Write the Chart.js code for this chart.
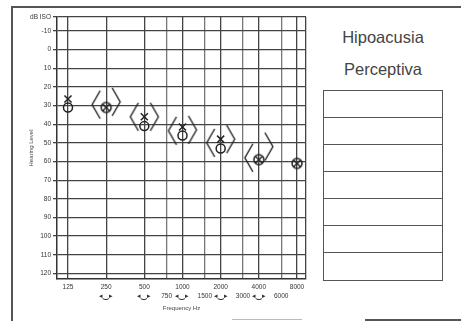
<!DOCTYPE html>
<html lang="es">
<head>
<meta charset="UTF-8">
<title>Audiograma - Hipoacusia Perceptiva</title>
<script src="https://cdn.jsdelivr.net/npm/chart.js"></script>
<style>
  html, body {
    margin: 0;
    padding: 0;
    width: 461px;
    height: 321px;
    overflow: hidden;
    background: #fff;
    font-family: "Liberation Sans", Arial, sans-serif;
  }
  #wrap { position: absolute; left: 0; top: 0; width: 320px; height: 321px; }
  .line { position: absolute; background: #555; }
  .heading {
    position: absolute;
    left: 323px;
    width: 120px;
    text-align: center;
    font-size: 16.5px;
    color: #444;
  }
  #notes {
    position: absolute;
    left: 323px;
    top: 90px;
    width: 118px;
    border: 1.5px solid #555;
  }
  #notes div { height: 27px; border-bottom: 1.5px solid #555; box-sizing: border-box; }
  #notes div:last-child { border-bottom: none; }
</style>
</head>
<body>
  <div class="line" style="left:12px; top:6px; width:449px; height:2px;"></div>
  <div class="line" style="left:11px; top:6px; width:2px; height:315px;"></div>
  <div class="line" style="left:365px; top:319px; width:96px; height:2px;"></div>
  <div class="line" style="left:232px; top:319px; width:70px; height:1px; background:#bbb;"></div>

  <div id="wrap"><canvas id="audio"></canvas></div>

  <div class="heading" style="top:28px;">Hipoacusia</div>
  <div class="heading" style="top:60px;">Perceptiva</div>
  <div id="notes"><div></div><div></div><div></div><div></div><div></div><div></div><div></div></div>

<script>
  // frequencies (Hz) and thresholds (dB)
  const freqs = [125, 250, 500, 1000, 2000, 4000, 8000];
  const xTicks = [125, 250, 500, 750, 1000, 1500, 2000, 3000, 4000, 6000, 8000];
  const topRow = [125, 250, 500, 1000, 2000, 4000, 8000];
  const arrowRow = [250, 500, 1000, 2000, 4000];
  const halfRow = [750, 1500, 3000, 6000];
  const dbTicks = [-10, 0, 10, 20, 30, 40, 50, 60, 70, 80, 90, 100, 110, 120];

  const rightAir  = [31,   null, 41, 46,   53, null, null]; // O
  const leftAir   = [26.5, null, 36, 41.5, 48, null, null]; // X
  const bothAir   = [null, 31,   null, null, null, 59, 61]; // O + X
  const rightBone = [null, 29.5, 36, 43.5, 50, 58, null];   // <
  const leftBone  = [null, 28,   36, 43,   48, 52, null];   // >

  const xMin = 102.4, xMax = 9420;
  const yMin = -17.5, yMax = 123;
  const ink = '#222';

  function toPoints(vals) {
    return freqs.map((f, i) => ({ x: f, y: vals[i] })).filter(p => p.y !== null);
  }

  function bracket(dir) {
    const c = document.createElement('canvas');
    c.width = 36; c.height = 32;
    const g = c.getContext('2d');
    g.strokeStyle = ink;
    g.lineWidth = 1.4;
    g.beginPath();
    if (dir === '<') { g.moveTo(12, 2); g.lineTo(4, 16); g.lineTo(12, 30); }
    else { g.moveTo(24, 2); g.lineTo(32, 16); g.lineTo(24, 30); }
    g.stroke();
    return c;
  }

  function circleCross() {
    const c = document.createElement('canvas');
    c.width = 14; c.height = 14;
    const g = c.getContext('2d');
    g.strokeStyle = ink;
    g.lineWidth = 1.5;
    g.beginPath();
    g.arc(7, 7, 5, 0, Math.PI * 2);
    g.moveTo(3.5, 3.5); g.lineTo(10.5, 10.5);
    g.moveTo(10.5, 3.5); g.lineTo(3.5, 10.5);
    g.stroke();
    return c;
  }

  const ctx = document.getElementById('audio').getContext('2d');

  new Chart(ctx, {
    type: 'scatter',
    data: {
      datasets: [
        { label: 'VO der.', data: toPoints(rightBone), pointStyle: bracket('<') },
        { label: 'VO izq.', data: toPoints(leftBone), pointStyle: bracket('>') },
        { label: 'VA der.', data: toPoints(rightAir), pointStyle: 'circle', pointRadius: 4.5,
          borderColor: ink, backgroundColor: 'rgba(0,0,0,0)', borderWidth: 1.5 },
        { label: 'VA izq.', data: toPoints(leftAir), pointStyle: 'crossRot', pointRadius: 5,
          borderColor: ink, borderWidth: 1.5 },
        { label: 'VA ambos', data: toPoints(bothAir), pointStyle: circleCross() }
      ]
    },
    options: {
      responsive: true,
      maintainAspectRatio: false,
      animation: false,
      layout: { padding: { top: 17, right: 14, left: 0, bottom: 0 } },
      plugins: { legend: { display: false }, tooltip: { enabled: false } },
      scales: {
        x: {
          type: 'logarithmic',
          min: xMin,
          max: xMax,
          afterBuildTicks: (scale) => {
            scale.ticks = xTicks.concat([xMax]).map(v => ({ value: v }));
          },
          afterFit: (scale) => { scale.height = 42; },
          ticks: {
            autoSkip: false,
            maxRotation: 0,
            padding: 3,
            color: '#333',
            font: { size: 6.5, family: '"Liberation Sans", Arial', lineHeight: 1.5 },
            callback: (v) => {
              const a = topRow.includes(v) ? String(v) : '';
              const b = arrowRow.includes(v) ? '\u25C2\u203F\u25B8' : (halfRow.includes(v) ? String(v) : '');
              return [a, b];
            }
          },
          grid: {
            drawTicks: false,
            color: (c) => halfRow.includes(c.tick && c.tick.value) ? '#777' : '#444',
            lineWidth: 1.3
          },
          border: { display: true, color: '#333', width: 1.5 },
          title: {
            display: true,
            text: 'Frequency Hz',
            color: '#444',
            font: { size: 6, family: '"Liberation Sans", Arial' },
            padding: { bottom: 9 }
          }
        },
        y: {
          type: 'linear',
          reverse: true,
          min: yMin,
          max: yMax,
          afterBuildTicks: (scale) => {
            scale.ticks = [yMin].concat(dbTicks).map(v => ({ value: v }));
          },
          afterFit: (scale) => { scale.width = 57; },
          ticks: {
            padding: 2,
            color: '#333',
            font: { size: 6.5, family: '"Liberation Sans", Arial' },
            callback: (v) => v === yMin ? 'dB ISO' : String(v)
          },
          grid: { color: '#444', lineWidth: 1.3, tickLength: 4 },
          border: { display: true, color: '#333', width: 1.5 },
          title: {
            display: true,
            text: 'Hearing Level',
            color: '#444',
            font: { size: 6, family: '"Liberation Sans", Arial' },
            padding: { top: 28 }
          }
        }
      }
    }
  });
</script>
</body>
</html>
